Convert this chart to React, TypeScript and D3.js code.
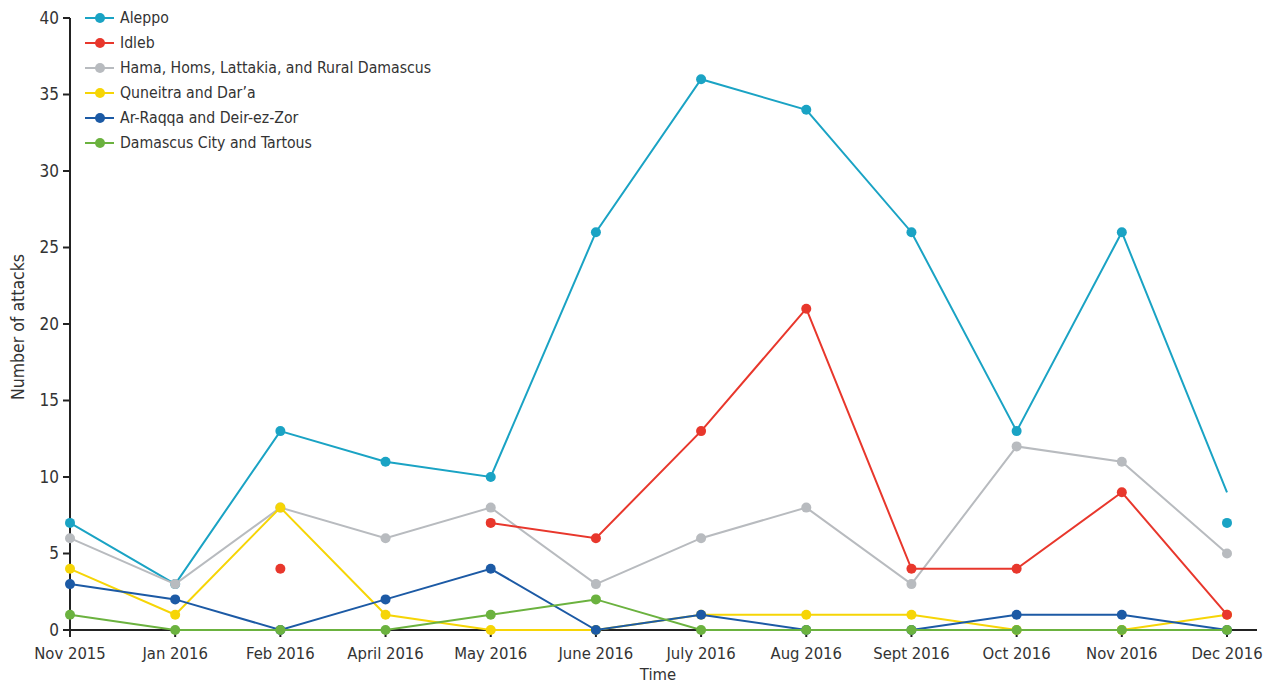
import React from "react";
import * as d3 from "d3";

const months = ["Nov 2015", "Jan 2016", "Feb 2016", "April 2016", "May 2016", "June 2016", "July 2016", "Aug 2016", "Sept 2016", "Oct 2016", "Nov 2016", "Dec 2016"];
const yTicks = [0, 5, 10, 15, 20, 25, 30, 35, 40];

const aleppo = [7, 3, 13, 11, 10, 26, 36, 34, 26, 13, 26, 7];
const aleppoLine = [7, 3, 13, 11, 10, 26, 36, 34, 26, 13, 26, 9];
const idleb: (number | null)[] = [null, null, 4, null, 7, 6, 13, 21, 4, 4, 9, 1];
const hama = [6, 3, 8, 6, 8, 3, 6, 8, 3, 12, 11, 5];
const quneitra = [4, 1, 8, 1, 0, 0, 1, 1, 1, 0, 0, 1];
const arRaqqa = [3, 2, 0, 2, 4, 0, 1, 0, 0, 1, 1, 0];
const damascus = [1, 0, 0, 0, 1, 2, 0, 0, 0, 0, 0, 0];

const seriesNames = ["Aleppo", "Idleb", "Hama, Homs, Lattakia, and Rural Damascus", "Quneitra and Dar\u2019a", "Ar-Raqqa and Deir-ez-Zor", "Damascus City and Tartous"];
const seriesColors = ["#1aa3c4", "#e8372c", "#b8bbbf", "#f6d506", "#1c5aa5", "#6bb23f"];

const series = [
  { name: seriesNames[0], color: seriesColors[0], line: aleppoLine, points: aleppo },
  { name: seriesNames[1], color: seriesColors[1], line: idleb, points: idleb },
  { name: seriesNames[2], color: seriesColors[2], line: hama, points: hama },
  { name: seriesNames[3], color: seriesColors[3], line: quneitra, points: quneitra },
  { name: seriesNames[4], color: seriesColors[4], line: arRaqqa, points: arRaqqa },
  { name: seriesNames[5], color: seriesColors[5], line: damascus, points: damascus },
];
const drawOrder = [0, 2, 3, 4, 5, 1];

const W = 1268, H = 684;
const FONT = "'DejaVu Sans Condensed', 'Liberation Sans Narrow', 'Open Sans', sans-serif";

export default function App() {
  const x = d3.scalePoint<string>().domain(months).range([70, 1227]);
  const y = d3.scaleLinear().domain([0, 40]).range([630, 18]);
  const line = d3
    .line<number | null>()
    .defined((d) => d != null)
    .x((_, i) => x(months[i]) as number)
    .y((d) => y(d as number));

  return (
    <svg width={W} height={H} style={{ position: "absolute", left: 0, top: 0, background: "#fff" }} fontFamily={FONT}>
      <rect width={W} height={H} fill="#fff" />
      {/* axes */}
      <line x1={70} x2={70} y1={y(40)} y2={y(0)} stroke="#222" strokeWidth={2} />
      <line x1={69} x2={1257} y1={y(0)} y2={y(0)} stroke="#222" strokeWidth={2} />
      {yTicks.map((t) => (
        <g key={t}>
          <line x1={63} x2={70} y1={y(t)} y2={y(t)} stroke="#222" strokeWidth={2} />
          <text x={59} y={y(t)} dy="0.35em" textAnchor="end" fontSize={17} fill="#333">
            {t}
          </text>
        </g>
      ))}
      {months.map((m) => (
        <g key={m}>
          <line x1={x(m)} x2={x(m)} y1={y(0)} y2={y(0) + 7} stroke="#222" strokeWidth={2} />
          <text x={x(m)} y={659} textAnchor="middle" fontSize={16.5} fill="#333">
            {m}
          </text>
        </g>
      ))}
      <text x={658} y={680} textAnchor="middle" fontSize={16.5} fill="#333">Time</text>
      <text transform={`translate(24,327) rotate(-90)`} textAnchor="middle" fontSize={17.5} fill="#333">
        Number of attacks
      </text>

      {/* series */}
      {drawOrder.map((si) => {
        const s = series[si];
        return (
          <g key={s.name}>
            <path d={line(s.line) || ""} fill="none" stroke={s.color} strokeWidth={2} />
            {s.points.map((v, i) =>
              v == null ? null : (
                <circle key={i} cx={x(months[i])} cy={y(v)} r={5} fill={s.color} />
              )
            )}
          </g>
        );
      })}

      {/* legend */}
      {series.map((s, i) => {
        const ly = 18 + i * 25;
        return (
          <g key={s.name}>
            <line x1={85} x2={114} y1={ly} y2={ly} stroke={s.color} strokeWidth={2} />
            <circle cx={100} cy={ly} r={5} fill={s.color} />
            <text x={120} y={ly} dy="0.35em" fontSize={15.7} fill="#333">
              {s.name}
            </text>
          </g>
        );
      })}
    </svg>
  );
}
